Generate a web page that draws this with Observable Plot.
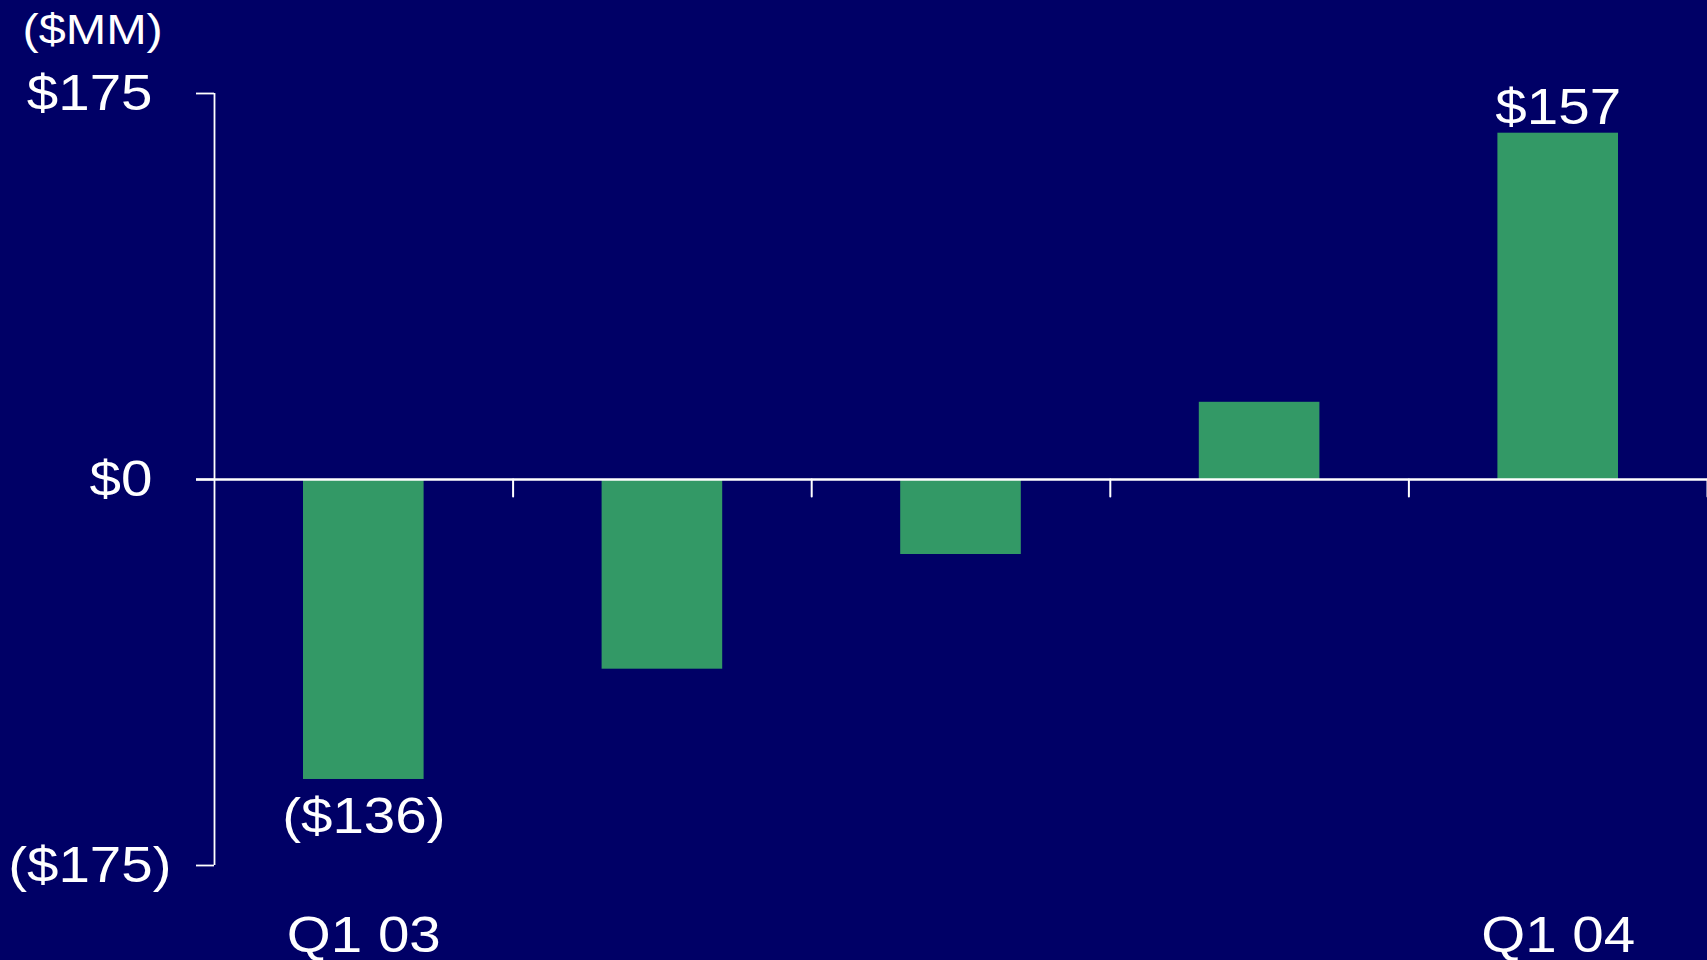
<!DOCTYPE html>
<html>
<head>
<meta charset="utf-8">
<script src="https://cdn.jsdelivr.net/npm/d3@7"></script>
<script src="https://cdn.jsdelivr.net/npm/@observablehq/plot@0.6"></script>
<style>
  html, body { margin: 0; padding: 0; background: #000066; }
  svg { display: block; }
</style>
</head>
<body>
<script>
// ---- data ----
const quarters = ["Q1 03", "Q2 03", "Q3 03", "Q4 03", "Q1 04"];
const values = [-136, -86, -34, 35, 157];
const labelledIndex = [0, 4];            // bars/quarters that carry text labels
const yTicksMain = [175, 0];
const yTicksNeg = [-175];
const unitLabel = "($MM)";
const boundaries = [1, 2, 3, 4, 5];      // band boundaries (category index)

const fmt = v => v < 0 ? `($${Math.abs(v)})` : `$${v}`;

const data = quarters.map((q, i) => ({i, q, value: values[i]}));
const labelled = data.filter(d => labelledIndex.includes(d.i));

const WHITE = "white";
const GREEN = "#339966";
const FONT = "Arial, 'Liberation Sans', sans-serif";

const chart = Plot.plot({
  width: 1707,
  height: 960,
  marginLeft: 214,
  marginRight: 0,
  marginTop: 93,
  marginBottom: 95,
  style: {background: "#000066", color: WHITE, fontFamily: FONT, fontSize: "50px", overflow: "visible"},
  x: {type: "linear", domain: [0, quarters.length], axis: null},
  y: {domain: [-175, 175], label: null},
  marks: [
    Plot.rectY(data, {x1: "i", x2: d => d.i + 1, y: "value", fill: GREEN, insetLeft: 89, insetRight: 89}),
    // y axis line
    Plot.ruleX([0], {stroke: WHITE, strokeWidth: 1.8}),
    // zero line
    Plot.ruleY([0], {stroke: WHITE, strokeWidth: 2.5, insetLeft: -18}),
    // category boundary ticks hanging below the zero line
    Plot.vector(boundaries, {
      x: d => d, y: 0, length: 17, rotate: 180, anchor: "start",
      stroke: WHITE, strokeWidth: 2,
      shape: {draw(ctx, l) { ctx.moveTo(0, 0); ctx.lineTo(0, -l); }}
    }),
    Plot.axisY(yTicksMain, {tickSize: 18, tickPadding: 44, tickFormat: fmt, fontSize: 50, stroke: WHITE, strokeWidth: 1.8, label: null}),
    Plot.axisY(yTicksNeg, {tickSize: 18, tickPadding: 25, tickFormat: fmt, fontSize: 50, stroke: WHITE, strokeWidth: 1.8, label: null}),
    // value labels
    Plot.text(labelled.filter(d => d.value >= 0), {x: d => d.i + 0.5, y: "value", text: d => fmt(d.value), lineAnchor: "bottom", dy: -9, fontSize: 50, fill: WHITE}),
    Plot.text(labelled.filter(d => d.value < 0), {x: d => d.i + 0.5, y: "value", text: d => fmt(d.value), lineAnchor: "bottom", dy: 54, fontSize: 50, fill: WHITE}),
    // quarter labels
    Plot.text(labelled, {x: d => d.i + 0.5, text: "q", frameAnchor: "bottom", lineAnchor: "bottom", dy: 86, fontSize: 50, fill: WHITE}),
    // unit label
    Plot.text([unitLabel], {text: d => d, frameAnchor: "top-left", textAnchor: "start", lineAnchor: "bottom", dx: -192, dy: -50, fontSize: 43, fill: WHITE})
  ]
});

document.body.append(chart);

// the original's lettering is horizontally widened; emulate it
chart.querySelectorAll("text").forEach(t => {
  const L = t.getComputedTextLength();
  if (L > 0) {
    t.setAttribute("textLength", (L * 1.13).toFixed(1));
    t.setAttribute("lengthAdjust", "spacingAndGlyphs");
  }
});
</script>
</body>
</html>
